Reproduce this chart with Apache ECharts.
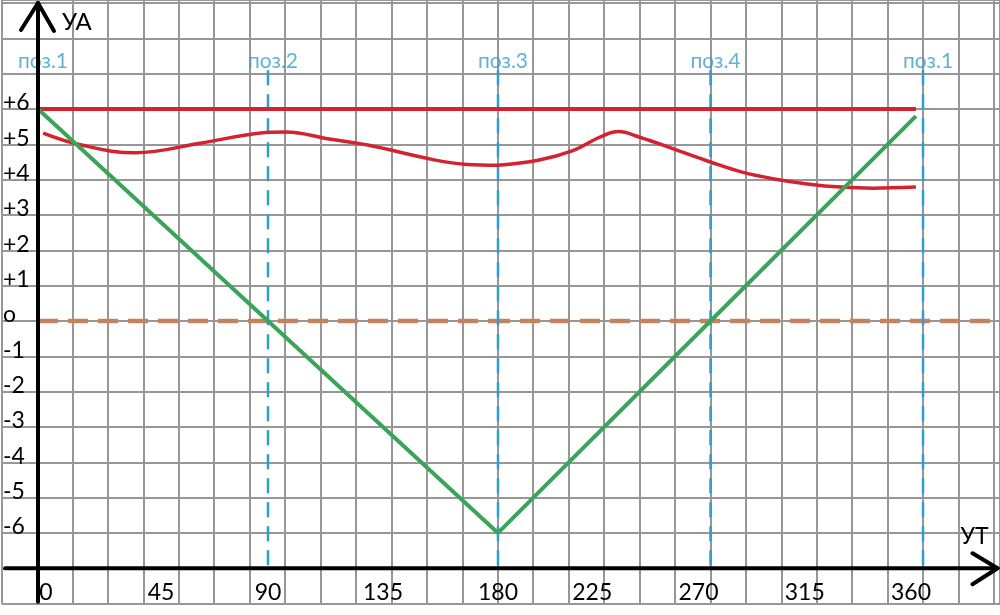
<!DOCTYPE html>
<html><head><meta charset="utf-8">
<script src="https://cdn.jsdelivr.net/npm/echarts@6/dist/echarts.min.js"></script>
<style>html,body{margin:0;padding:0;background:#fff}#c{width:1000px;height:615px}</style>
</head><body><div id="c"></div>
<script>
// ---- data ----
const xTickLabels = [0, 45, 90, 135, 180, 225, 270, 315, 360];
const yTickLabels = [6, 5, 4, 3, 2, 1, 0, -1, -2, -3, -4, -5, -6];
const flatRed = [[0, 6], [180, 6], [357, 6]];
const wavyRed = [[2, 5.32], [17, 4.98], [38, 4.76], [64, 5.04], [87, 5.32], [97, 5.35], [114, 5.15],
  [129, 4.98], [155, 4.56], [168, 4.43], [180, 4.41], [197, 4.55], [212, 4.83], [223, 5.2],
  [231, 5.36], [240, 5.2], [254, 4.88], [270, 4.5], [283, 4.22], [297, 4.02],
  [311, 3.88], [325, 3.79], [339, 3.76], [357, 3.79]];
const greenLine = [[0, 6], [90, 0], [180, -6], [270, 0], [357, 5.8]];
const zeroLine = [[0, 0], [180, 0], [392, 0]];
const posX = [0, 90, 180, 270, 360];
const posLabels = ['поз.1', 'поз.2', 'поз.3', 'поз.4', 'поз.1'];
const posTop = 7.1, posLabelY = 7.36, axisY = -7;
const yAxisName = 'УА', xAxisName = 'УТ';

// ---- layout ----
const yMin = -8, yMax = 9.085, gTop = 0, gBottom = 11.4;
const pxPerUnit = (615 - gTop - gBottom) / (yMax - yMin);
const split = 180;
const left = pts => pts.filter(p => p[0] <= split);
const right = pts => pts.filter(p => p[0] >= split);

const RED = '#d4232f', GREEN = '#3aa558', BLUE = '#2e9dd0', BROWN = '#c2845f';
const FONT = 'Lato, "Open Sans", sans-serif';

const chart = echarts.init(document.getElementById('c'), null, {renderer: 'canvas'});

const hiddenAxis = {axisLine: {show: false}, axisTick: {show: false}, axisLabel: {show: false}, splitLine: {show: false}};
const yCommon = {type: 'value', min: yMin, max: yMax, interval: 1};

function lineSeries(data, gi, color, width, extra) {
  return Object.assign({type: 'line', xAxisIndex: gi, yAxisIndex: gi, data: data, symbol: 'none',
    lineStyle: {color: color, width: width}, silent: true, animation: false}, extra || {});
}

const series = [];
// brown dashed zero line
series.push(lineSeries(left(zeroLine), 1, BROWN, 4.5, {lineStyle: {color: BROWN, width: 4.5, type: [20, 10]}, z: 2}));
series.push(lineSeries(right(zeroLine), 2, BROWN, 4.5, {lineStyle: {color: BROWN, width: 4.5, type: [20, 10], dashOffset: 8}, z: 2}));
// blue dashed position lines
posX.forEach(x => {
  if (x === 0) return;
  const gi = x <= split ? 1 : 2;
  series.push(lineSeries([[x, posTop], [x, axisY]], gi, BLUE, 2.5, {lineStyle: {color: BLUE, width: 2.5, type: [15, 9]}, z: 3}));
});
// position labels
[1, 2].forEach(gi => {
  const d = [];
  posX.forEach((x, i) => {
    if ((gi === 1 && x < split) || (gi === 2 && x >= split)) d.push({value: [x, posLabelY], name: posLabels[i]});
  });
  series.push({type: 'scatter', xAxisIndex: gi, yAxisIndex: gi, data: d, symbolSize: 1, silent: true, animation: false,
    itemStyle: {color: 'rgba(0,0,0,0)'},
    label: {show: true, position: 'inside', formatter: p => p.name, color: '#3a9fc8', fontSize: 21, fontFamily: FONT, offset: [5, 0]}, z: 5});
});
// red lines
series.push(lineSeries(left(flatRed), 1, RED, 4, {z: 4}));
series.push(lineSeries(right(flatRed), 2, RED, 4, {z: 4}));
series.push(lineSeries(left(wavyRed), 1, RED, 3.5, {smooth: 0.4, z: 4}));
series.push(lineSeries(right(wavyRed), 2, RED, 3.5, {smooth: 0.4, z: 4}));
// green V
series.push(lineSeries(left(greenLine), 1, GREEN, 4, {z: 5}));
series.push(lineSeries(right(greenLine), 2, GREEN, 4, {z: 5}));

const labelStyle = {color: '#000', fontSize: 23, fontFamily: FONT};

chart.setOption({
  backgroundColor: '#fff',
  animation: false,
  grid: [
    {left: 1.56, right: 0, top: gTop, bottom: gBottom},
    {left: 37, right: 502, top: gTop, bottom: gBottom},
    {left: 498, right: 0, top: gTop, bottom: gBottom}
  ],
  xAxis: [
    {type: 'value', gridIndex: 0, min: -1, max: 27.17, interval: 1, axisLine: {show: false}, axisTick: {show: false},
      axisLabel: {show: false}, splitLine: {show: true, lineStyle: {color: '#979797', width: 2}}},
    {type: 'value', gridIndex: 1, min: 0, max: split, interval: 45, offset: -(axisY - yMin) * pxPerUnit,
      axisLine: {show: false}, axisTick: {show: false}, splitLine: {show: false},
      axisLabel: Object.assign({show: true, margin: 13, showMaxLabel: true, showMinLabel: true,
        formatter: v => (xTickLabels.indexOf(v) >= 0 ? (v === 0 || v === 45 ? '{s|' + v + '}' : String(v)) : ''),
        rich: {s: Object.assign({padding: [0, 0, 0, 16]}, labelStyle)}}, labelStyle)},
    {type: 'value', gridIndex: 2, min: split, max: 392.6, interval: 45, offset: -(axisY - yMin) * pxPerUnit,
      axisLine: {show: false}, axisTick: {show: false}, splitLine: {show: false},
      axisLabel: Object.assign({show: true, margin: 13, showMinLabel: false, showMaxLabel: false,
        formatter: v => (xTickLabels.indexOf(v) >= 0 && v > split ? '{s|' + v + '}' : ''),
        rich: {s: Object.assign({padding: [0, 24, 0, 0]}, labelStyle)}}, labelStyle)}
  ],
  yAxis: [
    Object.assign({gridIndex: 0, axisLine: {show: false}, axisTick: {show: false}, axisLabel: {show: false},
      splitLine: {show: true, lineStyle: {color: '#979797', width: 2}}}, yCommon),
    Object.assign({gridIndex: 1, axisLine: {show: false}, axisTick: {show: false}, splitLine: {show: false},
      axisLabel: Object.assign({show: true, align: 'left', margin: 35,
        formatter: v => (yTickLabels.indexOf(v) < 0 ? '' : '{s|' + (v > 0 ? '+' + v : (v === 0 ? 'о' : String(v))) + '}'),
        rich: {s: Object.assign({padding: [0, 0, 12, 0]}, labelStyle)}}, labelStyle)}, yCommon),
    Object.assign({gridIndex: 2}, hiddenAxis, yCommon)
  ],
  series: series
});

// axes with open arrowheads and axis names
const O = chart.convertToPixel({xAxisIndex: 1, yAxisIndex: 1}, [0, axisY]);
const yTop = chart.convertToPixel({xAxisIndex: 1, yAxisIndex: 1}, [0, 9.0])[1];
const yBot = chart.convertToPixel({xAxisIndex: 1, yAxisIndex: 1}, [0, -7.95])[1];
const xL = chart.convertToPixel({xAxisIndex: 0, yAxisIndex: 0}, [-0.9, axisY])[0];
const xR = chart.convertToPixel({xAxisIndex: 0, yAxisIndex: 0}, [27.1, axisY])[0];
const blk = {stroke: '#000', lineWidth: 4, lineCap: 'round', lineJoin: 'round', fill: null};
chart.setOption({
  graphic: [
    {type: 'line', z: 50, shape: {x1: O[0], y1: yBot, x2: O[0], y2: yTop}, style: blk},
    {type: 'polyline', z: 50, shape: {points: [[O[0] - 17, yTop + 27], [O[0], yTop], [O[0] + 16, yTop + 28]]}, style: blk},
    {type: 'line', z: 50, shape: {x1: xL, y1: O[1], x2: xR, y2: O[1]}, style: blk},
    {type: 'polyline', z: 50, shape: {points: [[xR - 25, O[1] - 15], [xR, O[1]], [xR - 25, O[1] + 16]]}, style: blk},
    {type: 'text', z: 50, x: O[0] + 24, y: yTop + 7, style: {text: yAxisName, fill: '#000', fontSize: 24, fontFamily: FONT}},
    {type: 'text', z: 50, x: xR - 37, y: O[1] - 43, style: {text: xAxisName, fill: '#000', fontSize: 23, fontFamily: FONT}}
  ]
});
</script></body></html>
